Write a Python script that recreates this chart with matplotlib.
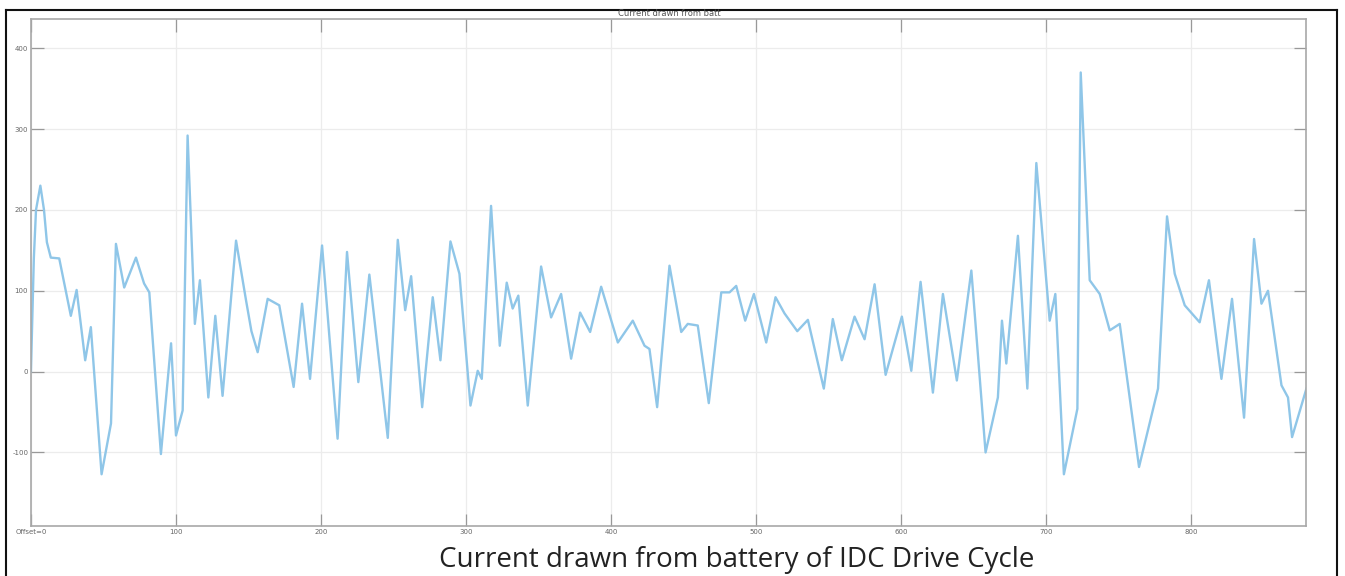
import matplotlib
matplotlib.use('Agg')
import matplotlib.pyplot as plt
from matplotlib.lines import Line2D

plt.rcParams['axes.unicode_minus'] = False

# time (s) and battery current (A)
t = [0, 2, 3.5, 6.5, 9, 11, 13.7, 19.5, 27.5, 31.5, 37.4, 41.3, 48.7, 55.2, 58.6, 64.3, 72.4, 78, 81.6,
     89.6, 96.6, 100, 104.6, 108, 113, 116.5, 122.3, 127.1, 132.1, 141.4, 148.3, 152, 156.3,
     163.2, 171.2, 181.1, 186.9, 192.4, 200.7, 211.4, 217.9, 225.7, 233.3, 246, 252.9,
     258, 262.1, 269.7, 277, 282.3, 289.2, 295.4, 303, 308, 310.8, 317.2, 323.2, 328,
     332.1, 336, 342.5, 351.7, 358.6, 365.5, 372.4, 378.6, 385.5, 393.1, 404.6, 414.9,
     423, 426.4, 431.7, 440.2, 448.3, 452.8, 459.7, 467.3, 475.9, 481.6, 486.2, 492.4,
     498.4, 506.9, 513.3, 519.5, 528.3, 535.6, 546.6, 552.8, 559, 567.8, 574.7, 581.6,
     589.2, 600.4, 606.9, 613.3, 621.8, 628.7, 638.3, 648.3, 658.1, 666.6, 669.4, 672.4,
     680.4, 686.9, 693.1, 702.3, 706.2, 712.1, 721.4, 723.7, 729.9, 736.8, 743.7, 750.6,
     763.9, 777, 783.2, 788.5, 795.4, 805.7, 812.1, 820.7, 828, 836.3, 843.2, 848.3,
     852.8, 862.1, 866.6, 869.4, 879.3]
current = [0, 140, 200, 230, 200, 160, 141, 140, 69, 101, 14, 55, -127, -64, 158, 104, 141, 109, 98,
           -102, 35, -79, -48, 292, 59, 113, -32, 69, -30, 162, 88, 50, 24,
           90, 82, -19, 84, -9, 156, -83, 148, -13, 120, -82, 163,
           76, 118, -44, 92, 14, 161, 121, -42, 1, -9, 205, 32, 110,
           78, 94, -42, 130, 67, 96, 16, 73, 49, 105, 36, 63,
           32, 28, -44, 131, 49, 59, 57, -39, 98, 98, 106, 63,
           96, 36, 92, 72, 50, 64, -21, 65, 14, 68, 40, 108,
           -4, 68, 1, 111, -26, 96, -11, 125, -100, -32, 63, 10,
           168, -21, 258, 63, 96, -127, -46, 370, 113, 96, 51, 59,
           -118, -21, 192, 121, 82, 61, 113, -9, 90, -57, 164, 84,
           100, -17, -32, -81, -21]

xticks = [0, 100, 200, 300, 400, 500, 600, 700, 800]
xticklabels = ['Offset=0', '100', '200', '300', '400', '500', '600', '700', '800']
yticks = [-100, 0, 100, 200, 300, 400]

fig = plt.figure(figsize=(13.45, 5.76), dpi=100)
ax = fig.add_axes([0.0230, 0.0868, 0.948, 0.880])

ax.plot(t, current, color='#8fc6e8', lw=1.7, solid_joinstyle='round')

ax.set_xlim(0, 879)
ax.set_ylim(-191, 436)
ax.set_xticks(xticks)
ax.set_xticklabels(xticklabels)
ax.set_yticks(yticks)
ax.grid(True, color='#ececec', lw=0.9)
ax.tick_params(direction='in', length=9, width=0.9, color='#999999',
               labelsize=5, labelcolor='#666666', top=True, right=True, pad=2)
for s in ax.spines.values():
    s.set_color('#a8a8a8')
    s.set_linewidth(1.2)

fig.text(0.498, 0.977, 'Current drawn from batt', fontsize=6, color='#555555',
         ha='center', va='center')
fig.text(0.548, 0.027, 'Current drawn from battery of IDC Drive Cycle', fontsize=20,
         family='Open Sans', color='#222222', ha='center', va='center')

# outer frame of the screenshot
W, H = 1345, 576
for xs, ys in [([6, 1337], [10, 10]), ([6, 6], [10, 576]), ([1337, 1337], [10, 576])]:
    fig.add_artist(Line2D([x / W for x in xs], [1 - y / H for y in ys],
                          color='#111111', lw=1.5, transform=fig.transFigure))

fig.savefig('out.png', dpi=100)
